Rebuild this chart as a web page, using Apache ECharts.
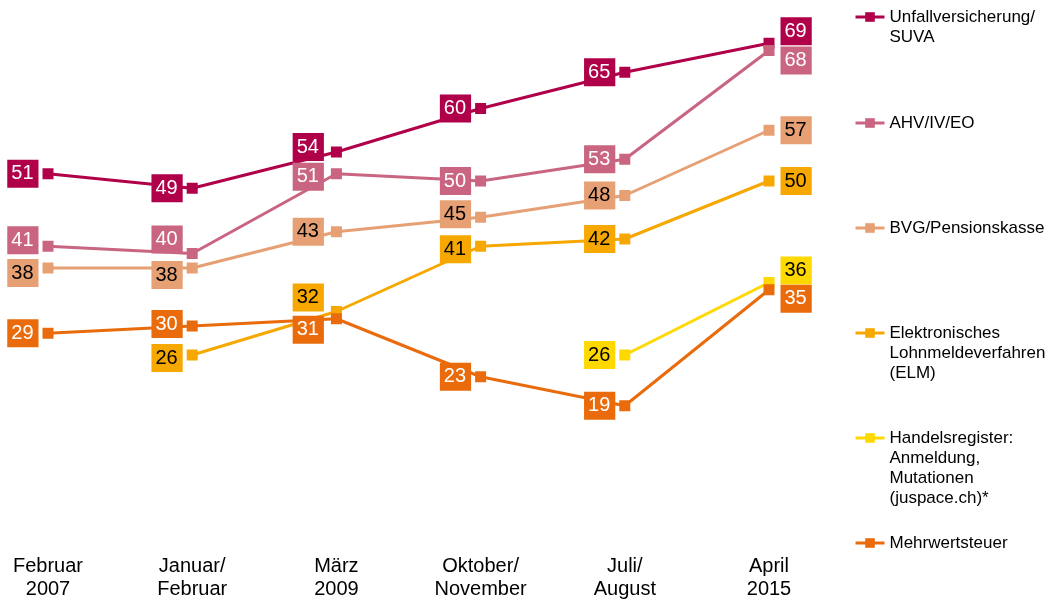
<!DOCTYPE html>
<html>
<head>
<meta charset="utf-8">
<script src="https://cdn.jsdelivr.net/npm/echarts@6/dist/echarts.min.js"></script>
<style>
  html, body { margin: 0; padding: 0; background: #fff; }
  #chart { width: 1049px; height: 606px; }
</style>
</head>
<body>
<div id="chart"></div>
<script>
// Zeitpunkte der Umfragen
var categories = ['Februar\n2007', 'Januar/\nFebruar', 'März\n2009', 'Oktober/\nNovember', 'Juli/\nAugust', 'April\n2015'];

// Werte je Angebot (in %)
var suva = [51, 49, 54, 60, 65, 69];
var ahv = [41, 40, 51, 50, 53, 68];
var bvg = [38, 38, 43, 45, 48, 57];
var elm = [null, 26, 32, 41, 42, 50];
var handelsregister = [null, null, null, null, 26, 36];
var mwst = [29, 30, 31, 23, 19, 35];

// kleine Verschiebungen der Wertboxen, damit sie sich nicht ueberlappen
var shifts = {
  suva: [[0, 0], [0, 0], [-3, -5], [0, 0], [0, 0], [0, -12]],
  ahv: [[0, -6], [0, -14], [-3, 3], [0, 0], [0, 0], [0, 10]],
  bvg: [[0, 5], [0, 7], [-3, 0], [0, -3], [0, 0], [0, 0]],
  elm: [[0, 0], [0, 3], [-3, -14], [0, 3], [0, 0], [0, 0]],
  hr: [[0, 0], [0, 0], [0, 0], [0, 0], [0, 0], [0, -12]],
  mwst: [[0, 0], [0, -2], [-3, 11], [0, 0], [0, 0], [0, 9]]
};

var font = 'Liberation Sans, Arial, sans-serif';

var lines = [
  { name: 'Unfallversicherung/SUVA', text: 'Unfallversicherung/\nSUVA', n: 2, icon: 17, values: suva, color: '#B0004A', txt: '#fff', shift: shifts.suva },
  { name: 'AHV/IV/EO', text: 'AHV/IV/EO', n: 1, icon: 123, values: ahv, color: '#C96581', txt: '#fff', shift: shifts.ahv },
  { name: 'BVG/Pensionskasse', text: 'BVG/Pensionskasse', n: 1, icon: 228, values: bvg, color: '#E6A074', txt: '#000', shift: shifts.bvg },
  { name: 'Elektronisches Lohnmeldeverfahren (ELM)', text: 'Elektronisches\nLohnmeldeverfahren\n(ELM)', n: 3, icon: 333, values: elm, color: '#F6A800', txt: '#000', shift: shifts.elm },
  { name: 'Handelsregister', text: 'Handelsregister:\nAnmeldung,\nMutationen\n(juspace.ch)*', n: 5, icon: 438, values: handelsregister, color: '#FFD800', txt: '#000', shift: shifts.hr },
  { name: 'Mehrwertsteuer', text: 'Mehrwertsteuer', n: 1, icon: 543, values: mwst, color: '#E96B0B', txt: '#fff', shift: shifts.mwst }
];

var last = categories.length - 1;

var series = lines.map(function (s) {
  return {
    name: s.name,
    type: 'line',
    symbol: 'rect',
    symbolSize: 11,
    connectNulls: false,
    lineStyle: { width: 3, color: s.color },
    itemStyle: { color: s.color },
    label: {
      show: true,
      fontFamily: font,
      fontSize: 20,
      lineHeight: 20,
      color: s.txt,
      backgroundColor: s.color,
      padding: [4, 5, 4, 4]
    },
    data: s.values.map(function (v, i) {
      if (v == null) return '-';
      return {
        value: v,
        label: {
          position: i === last ? 'right' : 'left',
          distance: i === last ? 6 : 4,
          offset: s.shift[i]
        }
      };
    })
  };
});

// leere Zeilen davor, damit das Symbol auf Hoehe der ersten Zeile steht
var legends = lines.map(function (s) {
  var pre = new Array(s.n).join('\n');
  var post = s.n > 4 ? '\n' : '';
  var rows = 2 * s.n - 1 + (post ? 1 : 0);
  return {
    data: [s.name],
    left: 854,
    top: s.icon - 10 * rows + (post ? 10 : 0),
    padding: 0,
    itemWidth: 29,
    itemHeight: 12,
    itemGap: 0,
    selectedMode: false,
    lineStyle: { width: 3 },
    formatter: function () { return pre + s.text + post; },
    textStyle: {
      fontFamily: font,
      fontSize: 17,
      lineHeight: 20,
      color: '#000'
    }
  };
});

var chart = echarts.init(document.getElementById('chart'));
chart.setOption({
  animation: false,
  grid: { left: 48, right: 280, top: 36, bottom: 135 },
  legend: legends,
  xAxis: {
    type: 'category',
    boundaryGap: false,
    data: categories,
    axisLine: { show: false },
    axisTick: { show: false },
    axisLabel: {
      margin: 84,
      fontFamily: font,
      fontSize: 20,
      lineHeight: 23,
      color: '#000',
      interval: 0
    }
  },
  yAxis: {
    type: 'value',
    min: 10,
    max: 70,
    show: false
  },
  series: series
});
</script>
</body>
</html>
